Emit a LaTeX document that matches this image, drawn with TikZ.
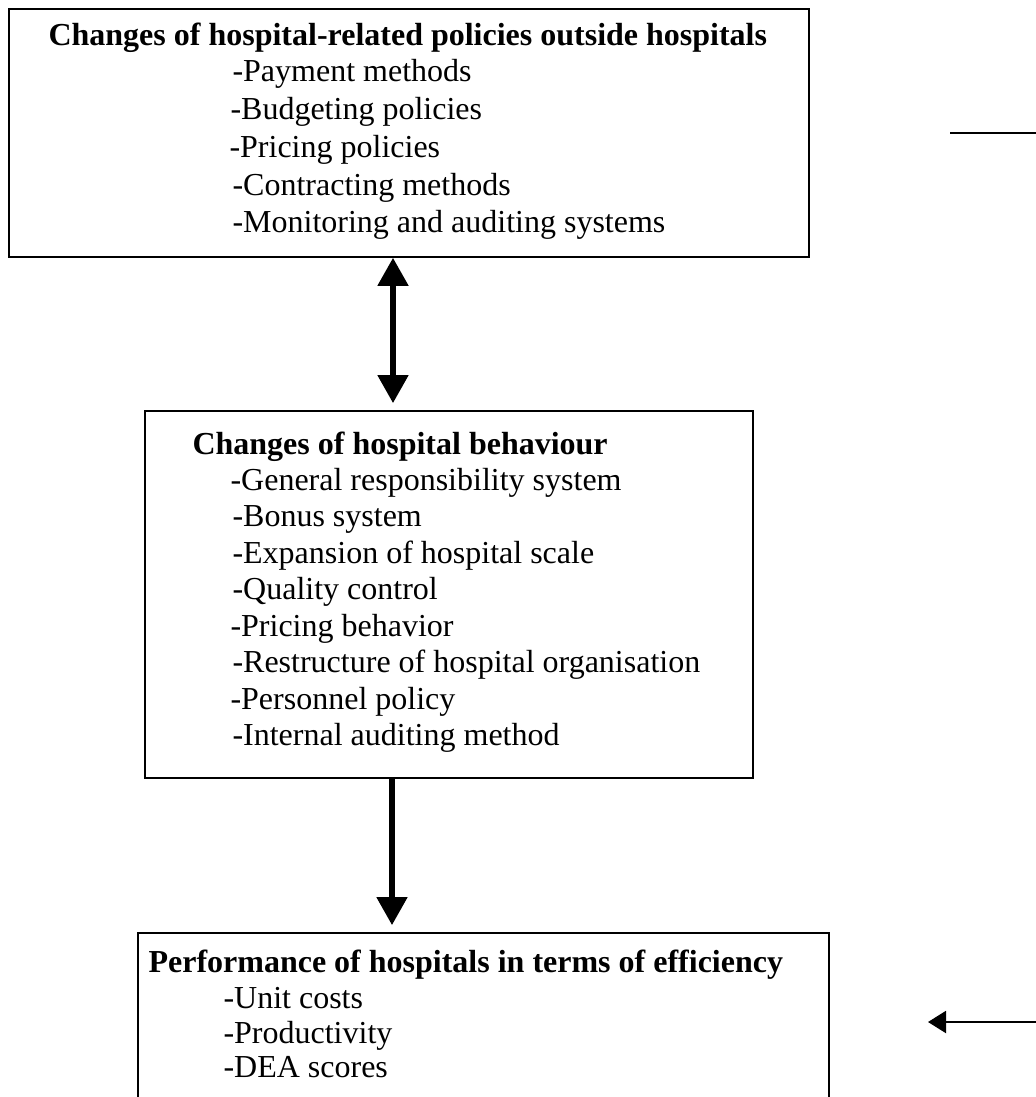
\documentclass[tikz,border=0pt]{standalone}
\usepackage{fontspec}
\setmainfont{Liberation Serif}
\usetikzlibrary{arrows.meta}
\begin{document}
\begin{tikzpicture}[x=0.375pt,y=-0.375pt,
  box/.style={draw,line width=0.7pt,rectangle,inner sep=0pt,anchor=north west},
  txt/.style={anchor=base west,inner sep=0pt,font=\fontsize{12}{13.8}\selectfont},
  head/.style={txt,font=\fontsize{12}{13.8}\selectfont\bfseries},
  bigarrow/.style={line width=1.9pt,-{Triangle[length=10.5pt,width=11.25pt]}},
  bigboth/.style={line width=1.9pt,{Triangle[length=10.5pt,width=11.25pt]}-{Triangle[length=10.5pt,width=11.25pt]}},
  thinarrow/.style={line width=0.75pt,-{Triangle[length=6.75pt,width=8.25pt]}}]
\useasboundingbox (0,0) rectangle (1036,1097);
\clip (0,0) rectangle (1036,1097);

% boxes
\node[box,minimum width=300pt,minimum height=93pt] (top) at (8,8) {};
\node[box,minimum width=228pt,minimum height=137.6pt] (mid) at (144,410) {};
\node[box,minimum width=259.1pt,minimum height=70pt] (bot) at (137,932) {};

% outside policies
\node[head] (h1) at (48,45) {Changes of hospital-related policies outside hospitals};
\node[txt] (p1) at (232,81) {-Payment methods};
\node[txt] (p2) at (230,119) {-Budgeting policies};
\node[txt] (p3) at (229,157) {-Pricing policies};
\node[txt] (p4) at (232,195) {-Contracting methods};
\node[txt] (p5) at (232,232) {-Monitoring and auditing systems};

% hospital behaviour
\node[head] (h2) at (192,454) {Changes of hospital behaviour};
\node[txt] (b1) at (230,490) {-General responsibility system};
\node[txt] (b2) at (232,526.5) {-Bonus system};
\node[txt] (b3) at (232,563) {-Expansion of hospital scale};
\node[txt] (b4) at (232,599.5) {-Quality control};
\node[txt] (b5) at (230,636) {-Pricing behavior};
\node[txt] (b6) at (232,672.5) {-Restructure of hospital organisation};
\node[txt] (b7) at (230,709) {-Personnel policy};
\node[txt] (b8) at (232,745.5) {-Internal auditing method};

% performance
\node[head] (h3) at (148,972) {Performance of hospitals in terms of efficiency};
\node[txt] (e1) at (223,1008) {-Unit costs};
\node[txt] (e2) at (223,1043) {-Productivity};
\node[txt] (e3) at (223,1077) {-DEA scores};

% connectors
\coordinate (ax) at (393,0);
\coordinate (bx) at (392,0);
\draw[bigboth,shorten >=2.6pt] (top.south -| ax) -- (mid.north -| ax);
\draw[bigarrow,shorten >=2.6pt] (mid.south -| bx) -- (bot.north -| bx);

\coordinate (l1) at (950,133);
\coordinate (l2) at (1036,133);
\draw[line width=0.75pt] (l1) -- (l2);
\coordinate (r1) at (1036,1022);
\coordinate (r2) at (928,1022);
\draw[thinarrow] (r1) -- (r2);
\end{tikzpicture}
\end{document}
